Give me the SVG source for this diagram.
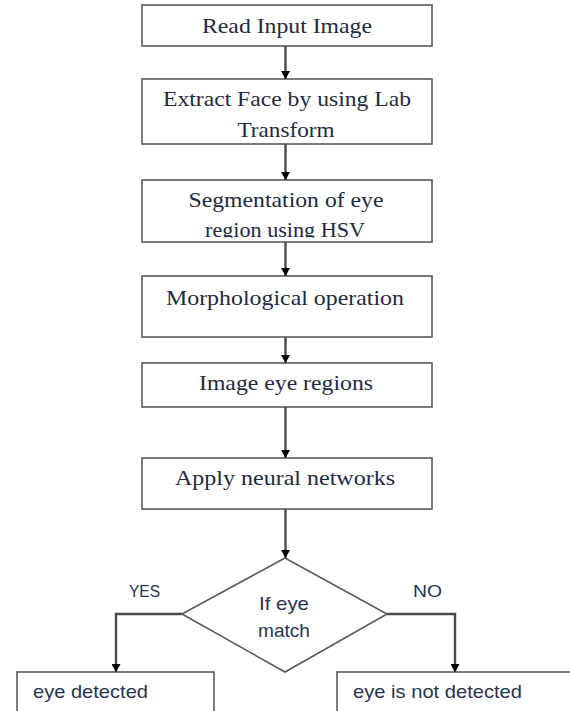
<svg xmlns="http://www.w3.org/2000/svg" width="570" height="711" viewBox="0 0 570 711">
<style>
.box{fill:#fff;stroke:#5a5a5a;stroke-width:1.6}
.st{font-family:"Liberation Serif","Times New Roman",serif;font-size:22px;fill:#1f2a40;text-anchor:middle}
.ss{font-family:"Liberation Sans",Arial,sans-serif;font-size:19px;fill:#2a3350}
.sl{font-family:"Liberation Sans",Arial,sans-serif;font-size:16px;fill:#2a3350}
.cn{fill:none;stroke:#4a4a4a;stroke-width:2.4}
</style>
<defs>
<marker id="ah" markerUnits="userSpaceOnUse" markerWidth="9" markerHeight="9" refX="8" refY="4.5" orient="auto">
<path d="M0,0 L8,4.5 L0,9 z" fill="#000"/>
</marker>
<clipPath id="c3"><rect x="142" y="180" width="290" height="57.5"/></clipPath>
</defs>
<g id="n1"><rect class="box" x="142" y="5" width="290" height="41"/><text class="st" x="287" y="33" textLength="170" lengthAdjust="spacingAndGlyphs">Read Input Image</text></g>
<g id="n2"><rect class="box" x="142" y="79" width="290" height="65"/><text class="st" x="287" y="106" textLength="248" lengthAdjust="spacingAndGlyphs">Extract Face by using Lab</text><text class="st" x="286" y="137" textLength="97" lengthAdjust="spacingAndGlyphs">Transform</text></g>
<g id="n3"><rect class="box" x="142" y="180" width="290" height="62"/><text class="st" x="286" y="207" textLength="195" lengthAdjust="spacingAndGlyphs">Segmentation of eye</text><text class="st" x="285" y="237" textLength="160" lengthAdjust="spacingAndGlyphs" clip-path="url(#c3)">region using HSV</text></g>
<g id="n4"><rect class="box" x="142" y="276" width="290" height="61"/><text class="st" x="285" y="305" textLength="238" lengthAdjust="spacingAndGlyphs">Morphological operation</text></g>
<g id="n5"><rect class="box" x="142" y="363" width="290" height="44"/><text class="st" x="286" y="390" textLength="174" lengthAdjust="spacingAndGlyphs">Image eye regions</text></g>
<g id="n6"><rect class="box" x="142" y="458" width="290" height="51"/><text class="st" x="285" y="485" textLength="220" lengthAdjust="spacingAndGlyphs">Apply neural networks</text></g>
<g id="n7"><polygon class="box" points="285,558 387,614 285,672 182,614"/><text class="ss" x="284" y="610" text-anchor="middle" textLength="50" lengthAdjust="spacingAndGlyphs">If eye</text><text class="ss" x="284" y="637" text-anchor="middle" textLength="52" lengthAdjust="spacingAndGlyphs">match</text></g>
<g id="n8"><rect class="box" x="17" y="672" width="197" height="60"/><text class="ss" x="33" y="698" textLength="115" lengthAdjust="spacingAndGlyphs">eye detected</text></g>
<g id="n9"><rect class="box" x="337" y="672" width="250" height="60"/><text class="ss" x="353" y="698" textLength="169" lengthAdjust="spacingAndGlyphs">eye is not detected</text></g>
<g id="connectors">
<line class="cn" x1="285.5" y1="46" x2="285.5" y2="79" marker-end="url(#ah)"/>
<line class="cn" x1="285.5" y1="144" x2="285.5" y2="180" marker-end="url(#ah)"/>
<line class="cn" x1="285.5" y1="242" x2="285.5" y2="276" marker-end="url(#ah)"/>
<line class="cn" x1="285.5" y1="337" x2="285.5" y2="363" marker-end="url(#ah)"/>
<line class="cn" x1="285.5" y1="407" x2="285.5" y2="458" marker-end="url(#ah)"/>
<line class="cn" x1="285.5" y1="509" x2="285.5" y2="558" marker-end="url(#ah)"/>
<path class="cn" d="M182,614 H116 V672" marker-end="url(#ah)"/>
<path class="cn" d="M387,614 H455 V672" marker-end="url(#ah)"/>
<text class="sl" x="129" y="597" textLength="31" lengthAdjust="spacingAndGlyphs">YES</text>
<text class="sl" x="413" y="597" textLength="29" lengthAdjust="spacingAndGlyphs">NO</text>
</g>
</svg>
